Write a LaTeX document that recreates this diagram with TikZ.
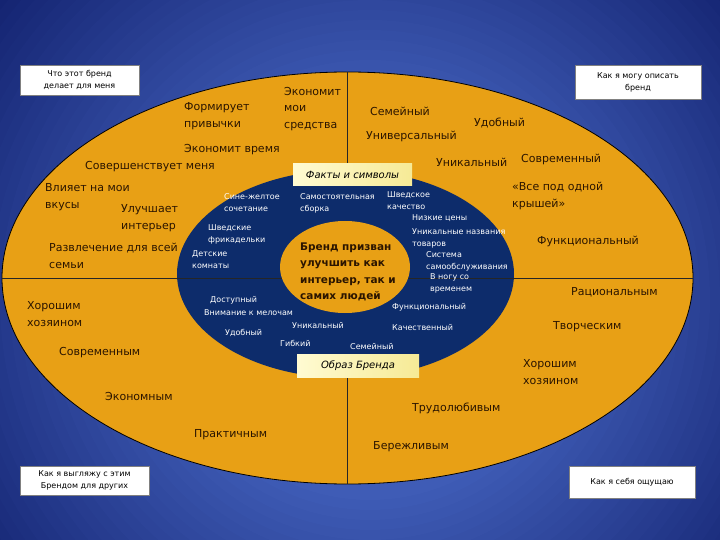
\documentclass[tikz,border=0pt]{standalone}
\usepackage{fontspec}
\setmainfont{DejaVu Sans}
\usepackage{tikz}
\usetikzlibrary{shapes.geometric}

\definecolor{bgdark}{HTML}{0E1C68}
\definecolor{bglight}{HTML}{3F5CB6}
\definecolor{brandorange}{HTML}{E8A015}
\definecolor{brandnavy}{HTML}{0D2C6B}
\definecolor{darktext}{HTML}{2B1500}
\definecolor{paleyellow}{HTML}{FFFBD2}
\definecolor{softyellow}{HTML}{F6EA96}

\tikzset{
  ringtext/.style={font=\fontsize{11}{16.5}\selectfont, text=darktext, anchor=west, align=left, inner sep=0pt},
  coretext/.style={font=\fontsize{8}{12}\selectfont, text=white, anchor=west, align=left, inner sep=0pt},
  brandtext/.style={font=\fontsize{10.5}{16.5}\selectfont\bfseries, text=darktext, anchor=west, align=left, inner sep=0pt},
  cornerbox/.style={draw=black!50, line width=0.4pt, fill=white, font=\fontsize{8}{12}\selectfont, align=center, inner sep=0pt},
  tagbox/.style={left color=paleyellow, right color=softyellow, font=\fontsize{10}{12}\selectfont\itshape, text=black, inner sep=0pt},
  zone/.style={ellipse, inner sep=0pt, outer sep=0pt},
  divider/.style={draw=black!85, line width=0.8pt}
}

\begin{document}
\begin{tikzpicture}[x=1pt,y=-1pt]
\useasboundingbox (0,0) rectangle (720,540);
\begin{scope}
\clip (0,0) rectangle (720,540);
\fill[bgdark] (0,0) rectangle (720,540);
\foreach \r in {520,510,...,10}{
  \pgfmathsetmacro\mix{max(0,min(100,(520-\r)/3.2))}
  \fill[bglight!\mix!bgdark] (370,300) circle (\r);
}
\end{scope}

% rings
\node[zone, draw=black, line width=0.8pt, fill=brandorange, minimum width=691pt, minimum height=412pt] (rim) at (347.5,278) {};
\draw[divider] (rim.north) -- (rim.south);
\node[zone, fill=brandnavy, minimum width=337pt, minimum height=208pt] (core) at (345.5,274) {};
\draw[divider] (rim.west) -- (rim.east);
\node[zone, fill=brandorange, minimum width=130pt, minimum height=92pt] (heart) at (345,267) {};

\node[brandtext] (claim) at (300,272) {Бренд призван\\улучшить как\\интерьер, так и\\самих людей};

% outer ring
\node[ringtext] (saves) at (284,109) {Экономит\\мои\\средства};
\node[ringtext] (habits) at (184,116) {Формирует\\привычки};
\node[ringtext] (savetime) at (184,150) {Экономит время};
\node[ringtext] (improves) at (85,167) {Совершенствует меня};
\node[ringtext] (tastes) at (45,197) {Влияет на мои\\вкусы};
\node[ringtext] (interior) at (121,218) {Улучшает\\интерьер};
\node[ringtext] (leisure) at (49,256) {Развлечение для всей\\семьи};
\node[ringtext] (family) at (370,111) {Семейный};
\node[ringtext] (handy) at (474,123) {Удобный};
\node[ringtext] (universal) at (366,136) {Универсальный};
\node[ringtext] (unique) at (436,162) {Уникальный};
\node[ringtext] (modern) at (521,159) {Современный};
\node[ringtext] (oneroof) at (512,196) {«Все под одной\\крышей»};
\node[ringtext] (functional) at (537,241) {Функциональный};
\node[ringtext] (hostleft) at (27,314) {Хорошим\\хозяином};
\node[ringtext] (modernme) at (59,353) {Современным};
\node[ringtext] (economical) at (105,396) {Экономным};
\node[ringtext] (practical) at (194,435) {Практичным};
\node[ringtext] (rational) at (571,292) {Рациональным};
\node[ringtext] (creative) at (553,327) {Творческим};
\node[ringtext] (hostright) at (523,372) {Хорошим\\хозяином};
\node[ringtext] (diligent) at (412,408) {Трудолюбивым};
\node[ringtext] (frugal) at (373,447) {Бережливым};

% inner ring
\node[coretext] (colours) at (224,203) {Сине-желтое\\сочетание};
\node[coretext] (selfbuild) at (300,203) {Самостоятельная\\сборка};
\node[coretext] (meatballs) at (208,234) {Шведские\\фрикадельки};
\node[coretext] (kidsroom) at (192,260) {Детские\\комнаты};
\node[coretext] (affordable) at (210,300) {Доступный};
\node[coretext] (details) at (204,313) {Внимание к мелочам};
\node[coretext] (handyin) at (225,333) {Удобный};
\node[coretext] (uniquein) at (292,326) {Уникальный};
\node[coretext] (flexible) at (280,343) {Гибкий};
\node[coretext] (familyin) at (350,347) {Семейный};
\node[coretext] (quality) at (387,201) {Шведское\\качество};
\node[coretext] (prices) at (412,218) {Низкие цены};
\node[coretext] (names) at (412,238) {Уникальные названия\\товаров};
\node[coretext] (selfserve) at (426,261) {Система\\самообслуживания};
\node[coretext] (intime) at (430,283) {В ногу со\\временем};
\node[coretext] (functionalin) at (392,307) {Функциональный};
\node[coretext] (qualitative) at (392,328) {Качественный};

% labels
\node[tagbox, minimum width=119pt, minimum height=22pt] (facts) at (352.5,175) {Факты и символы};
\node[tagbox, minimum width=122pt, minimum height=23pt] (image) at (358,365.5) {Образ Бренда};

\node[cornerbox, minimum width=119pt, minimum height=30pt] (whatfor) at (79.5,80) {Что этот бренд\\делает для меня};
\node[cornerbox, minimum width=126pt, minimum height=34pt] (describe) at (638,82) {Как я могу описать\\бренд};
\node[cornerbox, minimum width=129pt, minimum height=29pt] (others) at (84.5,480.5) {Как я выгляжу с этим\\Брендом для других};
\node[cornerbox, minimum width=126pt, minimum height=32pt] (feel) at (632,482) {Как я себя ощущаю};

\end{tikzpicture}
\end{document}
